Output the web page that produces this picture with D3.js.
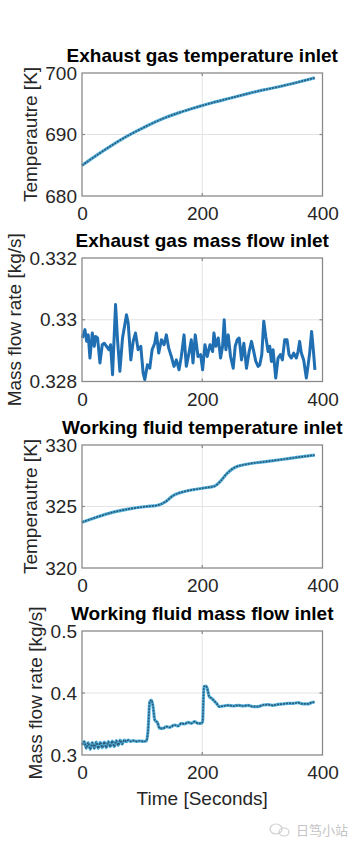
<!DOCTYPE html>
<meta charset="utf-8">
<style>

body {
  margin: 0;
  background: #fff;
}

.axis text {
  font: 19px "Liberation Sans", Arial, sans-serif;
  fill: #262626;
}

.axis path,
.axis line {
  display: none;
}

.grid line {
  stroke: #e3e3e3;
  stroke-width: 1;
}

.frame {
  fill: none;
  stroke: #8a8a8a;
  stroke-width: 1.3;
}

.tick-mark {
  stroke: #8a8a8a;
  stroke-width: 1.2;
}

.title {
  font: bold 19px "Liberation Sans", Arial, sans-serif;
  fill: #000;
  text-anchor: middle;
}

.ylabel,
.xlabel {
  font: 19px "Liberation Sans", Arial, sans-serif;
  fill: #262626;
  text-anchor: middle;
}

</style>
<body>
<script src="https://cdn.jsdelivr.net/npm/d3@7"></script>
<script>

// x axis shared by all four panels
var xDomain = [0, 400];
var xTicks = [0, 200, 400];

// Exhaust gas temperature inlet
var exhaustTempT = [0, 18, 41, 63, 85, 107, 135, 163, 191, 218, 246, 274, 302, 329, 357, 387];
var exhaustTempV = [684.97, 686.2, 687.7, 689.05, 690.25, 691.35, 692.6, 693.6, 694.45, 695.2, 695.9, 696.6, 697.25, 697.8, 698.45, 699.2];
var exhaustTempTicks = [680, 690, 700];
var exhaustTempTickLabels = ["680", "690", "700"];

// Exhaust gas mass flow inlet
var exhaustFlowT = [0.5, 4.9, 7.7, 10.4, 13.2, 17.1, 20.4, 22.6, 25.9, 29.8, 33.7, 37, 40.8, 44.7, 47.5, 50.8,
  55.8, 59.1, 63, 67.4, 74, 76.8, 81.2, 85.1, 88.9, 93.4, 97.8, 101.7, 104.4, 108.8, 112.7, 116.6, 121, 123.8,
  127.6, 132.1, 136.5, 140.3, 144.2, 148.6, 153, 156.9, 161.4, 165.2, 169.7, 173.5, 177.9, 181.8, 184.6, 188.4,
  192.9, 197.3, 200.6, 204.5, 208.3, 212.8, 217.2, 219.4, 222.7, 226.6, 230.5, 233.8, 236.5, 239.3, 243.2, 247,
  251.5, 254.8, 258.1, 261.4, 265.3, 269.2, 273.6, 278, 281.9, 285.7, 289.1, 292.9, 295.7, 299, 302.3, 305.6,
  309.5, 312.3, 315, 317.8, 322.2, 326.1, 330, 333.3, 337.1, 341, 344.3, 348.2, 352.1, 356.5, 359.3, 362, 364.8,
  368.7, 373.1, 375.8, 378.6, 381.9, 385.2, 387.4];
var exhaustFlowV = [0.32941, 0.32968, 0.3293, 0.32951, 0.32876, 0.32957, 0.32914, 0.32946, 0.32941, 0.3286,
  0.32919, 0.32924, 0.32914, 0.32903, 0.32919, 0.32822, 0.33049, 0.32935, 0.32833, 0.32941, 0.33016, 0.32989,
  0.3287, 0.3293, 0.32957, 0.32903, 0.32914, 0.32827, 0.32806, 0.32854, 0.32843, 0.32903, 0.32924, 0.32957,
  0.32892, 0.32935, 0.32919, 0.32951, 0.32908, 0.32881, 0.32849, 0.3287, 0.32838, 0.32881, 0.32951, 0.32849,
  0.32892, 0.32935, 0.3286, 0.32951, 0.32881, 0.32887, 0.32838, 0.32919, 0.32881, 0.32919, 0.32897, 0.32957,
  0.32914, 0.32941, 0.32876, 0.32914, 0.33, 0.32903, 0.32951, 0.32881, 0.32843, 0.32914, 0.32935, 0.32941,
  0.3287, 0.32924, 0.32843, 0.32897, 0.3293, 0.32897, 0.32865, 0.32849, 0.32854, 0.32887, 0.32995, 0.32946,
  0.32897, 0.32914, 0.32865, 0.32903, 0.32811, 0.32876, 0.32887, 0.3287, 0.32935, 0.32935, 0.32887, 0.32876,
  0.32892, 0.32876, 0.32897, 0.3293, 0.32892, 0.3287, 0.32811, 0.32849, 0.32892, 0.32962, 0.32892, 0.32838];
var exhaustFlowTicks = [0.328, 0.33, 0.332];
var exhaustFlowTickLabels = ["0.328", "0.33", "0.332"];

// Working fluid temperature inlet
var fluidTempT = [0, 24, 52, 79, 107, 124, 138, 152, 174, 202, 221, 229, 241, 254, 274, 302, 329, 357, 387];
var fluidTempV = [323.72, 324.13, 324.54, 324.81, 325.0, 325.08, 325.36, 325.9, 326.26, 326.5, 326.67, 326.99,
  327.68, 328.17, 328.44, 328.63, 328.8, 328.99, 329.18];
var fluidTempTicks = [320, 325, 330];
var fluidTempTickLabels = ["320", "325", "330"];

// Working fluid mass flow inlet
var fluidFlowT = [0.5, 3.8, 7.1, 10.4, 13.7, 17.1, 20.4, 23.7, 27, 30.3, 33.7, 37, 40.3, 43.6, 46.9, 50.2, 53.6,
  56.9, 60.2, 63.5, 66.8, 70.2, 74, 76.8, 81.2, 85.1, 90.6, 96.1, 101.7, 107.2, 109.9, 112.7, 115.5, 118.2, 121,
  125.4, 129.3, 134.8, 140.3, 145.9, 154.1, 159.7, 165.2, 170.7, 176.2, 181.8, 187.3, 192.9, 198.4, 200.6, 202.8,
  206.1, 208.3, 211.6, 215.5, 219.4, 223.8, 228.2, 234.9, 243.2, 251.5, 259.8, 268, 276.3, 284.6, 292.9, 301.2,
  309.5, 317.8, 326.1, 334.4, 342.7, 351, 359.3, 367.5, 375.8, 381.4, 386.9];
var fluidFlowV = [0.3161, 0.3215, 0.3108, 0.3199, 0.3091, 0.3199, 0.3108, 0.321, 0.3108, 0.3205, 0.3118, 0.321,
  0.3118, 0.3215, 0.3134, 0.3226, 0.3134, 0.3231, 0.3156, 0.3242, 0.3177, 0.3242, 0.3215, 0.3242, 0.322, 0.3231,
  0.322, 0.3226, 0.322, 0.3226, 0.3403, 0.386, 0.3887, 0.378, 0.3565, 0.3522, 0.343, 0.343, 0.3457, 0.3446,
  0.3484, 0.3468, 0.3511, 0.35, 0.3527, 0.3511, 0.3538, 0.3511, 0.3511, 0.3538, 0.4102, 0.4113, 0.4075, 0.3941,
  0.3914, 0.3876, 0.3833, 0.378, 0.379, 0.3801, 0.379, 0.3801, 0.379, 0.3801, 0.378, 0.378, 0.3806, 0.3812,
  0.3801, 0.3817, 0.3823, 0.3833, 0.3833, 0.3844, 0.3823, 0.3823, 0.3844, 0.3855];
var fluidFlowTicks = [0.3, 0.4, 0.5];
var fluidFlowTickLabels = ["0.3", "0.4", "0.5"];

var width = 358,
    height = 848,
    left = 82,
    right = 322.5;

var panels = [
  {title: "Exhaust gas temperature inlet", ylabel: "Temperautre [K]", t: exhaustTempT, v: exhaustTempV,
   ticks: exhaustTempTicks, labels: exhaustTempTickLabels, top: 73, bottom: 196, labelX: 30, style: "soft"},
  {title: "Exhaust gas mass flow inlet", ylabel: "Mass flow rate [kg/s]", t: exhaustFlowT, v: exhaustFlowV,
   ticks: exhaustFlowTicks, labels: exhaustFlowTickLabels, top: 258, bottom: 381.5, labelX: 14, style: "solid"},
  {title: "Working fluid temperature inlet", ylabel: "Temperautre [K]", t: fluidTempT, v: fluidTempV,
   ticks: fluidTempTicks, labels: fluidTempTickLabels, top: 445, bottom: 568, labelX: 30, style: "soft"},
  {title: "Working fluid mass flow inlet", ylabel: "Mass flow rate [kg/s]", t: fluidFlowT, v: fluidFlowV,
   ticks: fluidFlowTicks, labels: fluidFlowTickLabels, top: 631, bottom: 755, labelX: 35, style: "soft"}
];

var svg = d3.select("body").append("svg")
    .attr("width", width)
    .attr("height", height);

var x = d3.scaleLinear().domain(xDomain).range([left, right]);

panels.forEach(function(p) {
  var y = d3.scaleLinear()
      .domain([p.ticks[0], p.ticks[p.ticks.length - 1]])
      .range([p.bottom, p.top]);

  var g = svg.append("g");

  // grid lines
  g.append("g")
      .attr("class", "grid")
    .selectAll("line.gx")
    .data(xTicks.slice(1, -1))
    .enter().append("line")
      .attr("x1", x).attr("x2", x)
      .attr("y1", p.top).attr("y2", p.bottom);

  g.select(".grid").selectAll("line.gy")
    .data(p.ticks.slice(1, -1))
    .enter().append("line")
      .attr("x1", left).attr("x2", right)
      .attr("y1", y).attr("y2", y);

  // data line
  var line = d3.line()
      .x(function(d, i) { return x(p.t[i]); })
      .y(function(d) { return y(d); });

  if (p.style === "solid") {
    g.append("path")
        .datum(p.v)
        .attr("fill", "none")
        .attr("stroke", "#1f6fb2")
        .attr("stroke-width", 3)
        .attr("stroke-linejoin", "round")
        .attr("d", line);
  } else {
    line.curve(d3.curveMonotoneX);
    g.append("path")
        .datum(p.v)
        .attr("fill", "none")
        .attr("stroke", "#56b4e0")
        .attr("stroke-width", 3.2)
        .attr("stroke-linejoin", "round")
        .attr("d", line);
    g.append("path")
        .datum(p.v)
        .attr("fill", "none")
        .attr("stroke", "#2a5a78")
        .attr("stroke-width", 1.7)
        .attr("stroke-dasharray", "2,1")
        .attr("d", line);
  }

  // frame and inside ticks
  g.append("rect")
      .attr("class", "frame")
      .attr("x", left)
      .attr("y", p.top)
      .attr("width", right - left)
      .attr("height", p.bottom - p.top);

  g.selectAll("line.tx")
    .data(xTicks.slice(1, -1))
    .enter().append("line")
      .attr("class", "tick-mark")
      .attr("x1", x).attr("x2", x)
      .attr("y1", p.bottom).attr("y2", p.bottom - 3);
  g.selectAll("line.tx2")
    .data(xTicks.slice(1, -1))
    .enter().append("line")
      .attr("class", "tick-mark")
      .attr("x1", x).attr("x2", x)
      .attr("y1", p.top).attr("y2", p.top + 3);
  g.selectAll("line.ty")
    .data(p.ticks.slice(1, -1))
    .enter().append("line")
      .attr("class", "tick-mark")
      .attr("x1", left).attr("x2", left + 3)
      .attr("y1", y).attr("y2", y);
  g.selectAll("line.ty2")
    .data(p.ticks.slice(1, -1))
    .enter().append("line")
      .attr("class", "tick-mark")
      .attr("x1", right).attr("x2", right - 3)
      .attr("y1", y).attr("y2", y);

  // axes
  g.append("g")
      .attr("class", "axis")
      .attr("transform", "translate(0," + p.bottom + ")")
      .call(d3.axisBottom(x).tickValues(xTicks).tickSize(0).tickPadding(11));

  g.append("g")
      .attr("class", "axis")
      .attr("transform", "translate(" + left + ",0)")
      .call(d3.axisLeft(y).tickValues(p.ticks).tickSize(0).tickPadding(5)
        .tickFormat(function(d, i) { return p.labels[i]; }));

  g.append("text")
      .attr("class", "title")
      .attr("x", (left + right) / 2)
      .attr("y", p.top - 11)
      .text(p.title);

  g.append("text")
      .attr("class", "ylabel")
      .attr("transform", "translate(" + p.labelX + "," + (p.top + p.bottom) / 2 + ") rotate(-90)")
      .attr("dy", "0.35em")
      .text(p.ylabel);
});

svg.append("text")
    .attr("class", "xlabel")
    .attr("x", (left + right) / 2)
    .attr("y", 805)
    .text("Time [Seconds]");

// watermark
var wm = svg.append("g")
    .attr("fill", "none")
    .attr("stroke", "#cfcfcf")
    .attr("stroke-width", 1.2);
wm.append("ellipse").attr("cx", 276).attr("cy", 829).attr("rx", 6).attr("ry", 5);
wm.append("ellipse").attr("cx", 284).attr("cy", 832).attr("rx", 5).attr("ry", 4);

svg.append("text")
    .attr("x", 296)
    .attr("y", 835)
    .attr("fill", "#c4c4c4")
    .style("font", "13px 'Noto Sans CJK SC', sans-serif")
    .text("日笃小站");

</script>
